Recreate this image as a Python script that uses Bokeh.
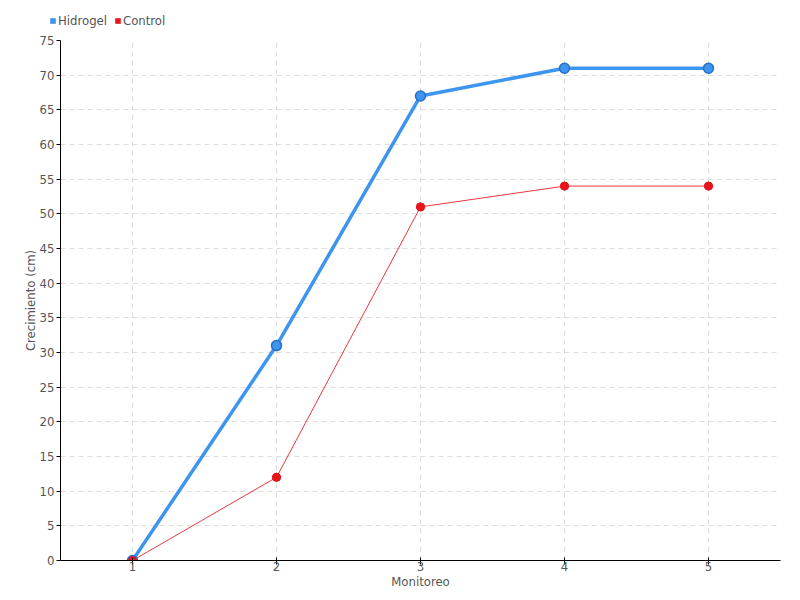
from bokeh.plotting import figure
from bokeh.layouts import column
from bokeh.models import ColumnDataSource, Legend, LegendItem, Range1d, FixedTicker
from bokeh.embed import file_html
from bokeh.resources import INLINE

monitoreo = [1, 2, 3, 4, 5]
hidrogel = [0, 31, 67, 71, 71]
control = [0, 12, 51, 54, 54]
y_ticks = list(range(0, 80, 5))
series_names = ["Hidrogel", "Control"]

FONT = "DejaVu Sans Condensed"
BLUE = "#3d95f0"
BLUE_DARK = "#2a6fc4"
RED = "#e8141c"

src = ColumnDataSource(dict(x=monitoreo, h=hidrogel, c=control))

# legend strip above the chart
lg = figure(frame_width=792, frame_height=32, output_backend="svg", toolbar_location=None,
            x_range=Range1d(0.5, 5.5), y_range=Range1d(0, 75),
            min_border_left=0, min_border_right=0, min_border_top=0, min_border_bottom=0)
lg.axis.visible = False
lg.grid.visible = False
lg.outline_line_color = None
lh = lg.rect("x", "h", width=0.1, height=1, source=src, fill_color=BLUE, line_color=None)
lc = lg.rect("x", "c", width=0.1, height=1, source=src, fill_color=RED, line_color=None)
lh.visible = False
lc.visible = False
legend = Legend(items=[LegendItem(label=series_names[0], renderers=[lh]),
                       LegendItem(label=series_names[1], renderers=[lc])],
                orientation="horizontal", location=(49, 4),
                border_line_color=None, background_fill_alpha=0,
                inactive_fill_alpha=0,
                label_text_font=FONT, label_text_font_size="13px", label_text_color="#555555",
                glyph_width=7, glyph_height=7, label_standoff=2, spacing=7,
                padding=0, margin=0, label_height=14)
lg.add_layout(legend, "center")

p = figure(frame_width=720, frame_height=520,
           output_backend="svg", toolbar_location=None,
           x_range=Range1d(0.5, 5.5), y_range=Range1d(0, 75),
           min_border_left=60, min_border_right=12, min_border_top=8, min_border_bottom=28)
p.outline_line_color = None

p.line("x", "c", source=src, line_color=RED, line_width=1, line_alpha=0.85)
p.scatter("x", "c", source=src, size=8, fill_color=RED, line_color=RED)
p.line("x", "h", source=src, line_color=BLUE, line_width=3.5)
p.scatter("x", "h", source=src, size=10, fill_color=BLUE, line_color=BLUE_DARK, line_width=1.5)
p.scatter("x", "c", source=src, size=8, fill_color=RED, line_color=RED)

for ax in (p.xaxis[0], p.yaxis[0]):
    ax.axis_line_color = "black"
    ax.axis_line_width = 1
    ax.major_tick_line_color = "black"
    ax.minor_tick_line_color = None
    ax.major_label_text_font = FONT
    ax.major_label_text_font_size = "13px"
    ax.major_label_text_color = "#555555"
    ax.axis_label_text_font = FONT
    ax.axis_label_text_font_size = "13px"
    ax.axis_label_text_color = "#555555"
    ax.axis_label_text_font_style = "normal"

p.xaxis.ticker = FixedTicker(ticks=monitoreo)
p.yaxis.ticker = FixedTicker(ticks=y_ticks)
p.xaxis.axis_label = "Monitoreo"
p.yaxis.axis_label = "Crecimiento (cm)"
p.xaxis.major_tick_in = 3
p.xaxis.major_tick_out = 4
p.yaxis.major_tick_in = 0
p.yaxis.major_tick_out = 4
p.xaxis.major_label_standoff = -3
p.xaxis.axis_label_standoff = 0
p.yaxis.major_label_standoff = 2
p.yaxis.axis_label_standoff = -1

p.xgrid.ticker = FixedTicker(ticks=monitoreo)
p.ygrid.ticker = FixedTicker(ticks=y_ticks)
for g in (p.xgrid[0], p.ygrid[0]):
    g.grid_line_color = "#dddddd"
    g.grid_line_dash = "5 4"
    g.grid_line_width = 1

layout = column(lg, p, spacing=0)
open("out.html", "w").write(file_html(layout, INLINE))
